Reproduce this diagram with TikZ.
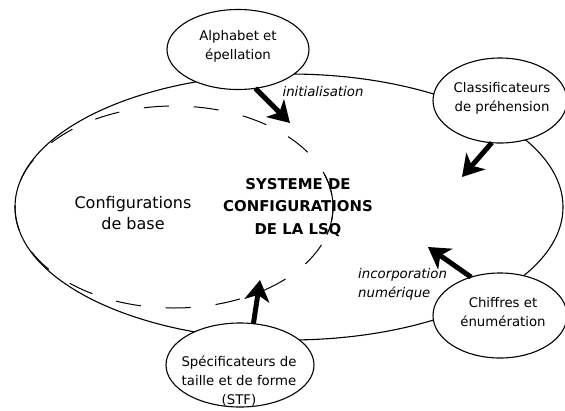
\documentclass[tikz,border=0pt]{standalone}
\usepackage{fontspec}
\setmainfont{DejaVu Sans}
\usetikzlibrary{arrows.meta,shapes.geometric}
\begin{document}
\begin{tikzpicture}[x=1pt,y=-1pt,
  bubble/.style={draw, ellipse, fill=white, line width=1.1pt, inner sep=0pt, outer sep=0pt},
  lbl/.style={align=center, inner sep=0pt, font=\fontsize{13.3}{19}\selectfont},
  bigarrow/.style={line width=5pt, -{Stealth[length=21pt,width=25pt,inset=6pt]}},
  ]
\useasboundingbox (0,0) rectangle (565,410);
% large ellipses
\draw[line width=1.1pt] (289,207) ellipse [x radius=274pt, y radius=133pt];
\draw[line width=1pt, dash pattern=on 25pt off 25pt, dash phase=38pt] (174,207) ellipse [x radius=159pt, y radius=101pt];
\draw[line width=1pt] (174,207) ++(-16:159pt and 101pt) arc[start angle=-16, end angle=19, x radius=159pt, y radius=101pt];
% bubbles
\node[bubble, minimum width=142pt, minimum height=80pt] (alpha) at (238,49.5) {};
\node[lbl] (alphaT) at (238,46) {Alphabet et\\épellation};
\node[bubble, minimum width=134pt, minimum height=85pt] (cls) at (500,100.5) {};
\node[lbl] (clsT) at (502,98) {Classificateurs\\de préhension};
\node[bubble, minimum width=134pt, minimum height=85pt] (chf) at (500,315.5) {};
\node[lbl] (chfT) at (503,312) {Chiffres et\\énumération};
\node[bubble, minimum width=148pt, minimum height=84pt] (spec) at (240,365) {};
\node[lbl] (specT) at (239,381) {Spécificateurs de\\taille et de forme\\(STF)};
% inner texts
\node[align=center, inner sep=0pt, font=\fontsize{16}{21}\selectfont] (cfg) at (133,213.5) {Configurations\\de base};
\node[align=center, inner sep=0pt, font=\fontsize{14.9}{22.5}\selectfont\bfseries] (sys) at (298,207.5) {SYSTEME DE\\CONFIGURATIONS\\DE LA LSQ};
\node[inner sep=0pt, font=\fontsize{13.3}{19}\selectfont\itshape] (init) at (323,92) {initialisation};
\node[align=left, anchor=west, inner sep=0pt, font=\fontsize{13.3}{19}\selectfont\itshape] (inc) at (358,284) {incorporation\\numérique};
% arrows
\coordinate (t1) at (290,123);
\coordinate (t2) at (462,177);
\coordinate (t3) at (428,247);
\coordinate (t4) at (260,280);
\draw[bigarrow] (alpha.-66) -- (t1);
\draw[bigarrow] (cls.-101) -- (t2);
\draw[bigarrow] (chf.127) -- (t3);
\draw[bigarrow] (spec.72) -- (t4);
\end{tikzpicture}
\end{document}
